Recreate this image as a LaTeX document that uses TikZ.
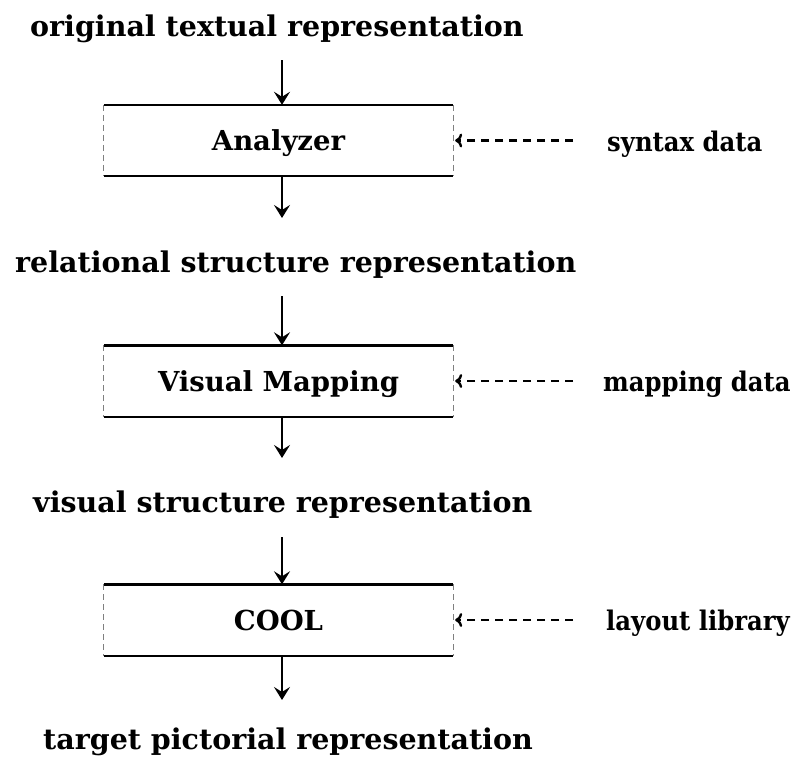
\documentclass[tikz,border=0pt]{standalone}
\usepackage{fontspec}
\setmainfont{DejaVu Serif}
\newfontfamily\narrowserif{DejaVu Serif}[FakeStretch=0.9]
\usetikzlibrary{arrows.meta}
\begin{document}
\begin{tikzpicture}[x=1pt,y=-1pt,
  lbl/.style={font=\fontsize{28.5}{34}\selectfont\bfseries, inner sep=0pt, anchor=base west},
  src/.style={font=\narrowserif\fontsize{27}{32}\selectfont\bfseries, inner sep=0pt, anchor=base west},
  stage/.style={font=\fontsize{27.5}{32}\selectfont\bfseries, minimum width=349pt, minimum height=71pt,
                text height=20pt, text depth=0pt, inner sep=0pt},
  flow/.style={line width=2.8pt, -{Stealth[length=13pt,width=16pt,inset=5pt]}},
  feed/.style={line width=2.4pt, dash pattern=on 8pt off 6pt, -{To[length=7pt,width=14pt,line width=2.4pt]}},
  edge/.style={line width=2.4pt},
  side/.style={line width=0.8pt, gray, dash pattern=on 6pt off 4pt}]
\useasboundingbox (0,0) rectangle (807,758);

% representations
\node[lbl] (t1) at (30,36)  {original textual representation};
\node[lbl] (t2) at (15,272) {relational structure representation};
\node[lbl] (t3) at (33,512) {visual structure representation};
\node[lbl] (t4) at (43,749) {target pictorial representation};

% processing stages
\node[stage] (an) at (278.5,140.5) {Analyzer};
\node[stage] (vm) at (278.5,381)   {Visual Mapping};
\node[stage] (co) at (278.5,620)   {COOL};

% stage borders: solid top and bottom, faint sides
\foreach \b in {an,vm,co}{
  \draw[edge] (\b.north west) -- (\b.north east);
  \draw[edge] (\b.south west) -- (\b.south east);
  \draw[side] (\b.north west) -- (\b.south west);
  \draw[side] (\b.north east) -- (\b.south east);
}

% data sources
\node[src] (sd) at (607,151) {syntax data};
\node[src] (md) at (603,391) {mapping data};
\node[src] (ll) at (606,630) {layout library};

% main flow
\coordinate (a1) at (282,60);
\coordinate (a2) at (282,218);
\coordinate (a3) at (282,296);
\coordinate (a4) at (282,458);
\coordinate (a5) at (282,537);
\coordinate (a6) at (282,700);
\draw[flow] (a1) -- (a1 |- an.north);
\draw[flow] (a1 |- an.south) -- (a2);
\draw[flow] (a3) -- (a3 |- vm.north);
\draw[flow] (a3 |- vm.south) -- (a4);
\draw[flow] (a5) -- (a5 |- co.north);
\draw[flow] (a5 |- co.south) -- (a6);

% data feeds
\draw[feed] ([xshift=-34pt]sd.west |- an.east) -- ([xshift=2pt]an.east);
\draw[feed] ([xshift=-30pt]md.west |- vm.east) -- ([xshift=2pt]vm.east);
\draw[feed] ([xshift=-33pt]ll.west |- co.east) -- ([xshift=2pt]co.east);
\end{tikzpicture}
\end{document}
